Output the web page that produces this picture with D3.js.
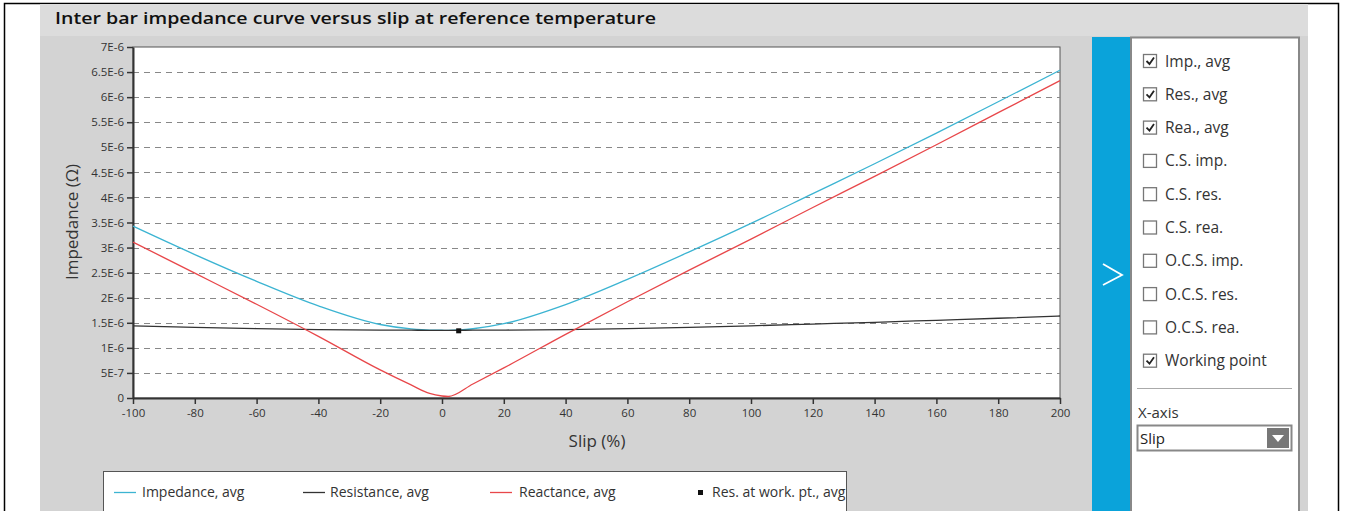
<!DOCTYPE html>
<html>
<head>
<meta charset="utf-8">
<script src="https://cdn.jsdelivr.net/npm/d3@7"></script>
<style>
  body { margin: 0; background: #fff; }
  svg { display: block; font-family: "Open Sans", sans-serif; }
</style>
</head>
<body>
<div id="my_dataviz"></div>
<script>
// data (impedance in ohm, slip in %)
var slip       = [-100, -80, -60, -40, -20, -10, -4, 0, 2, 10, 20, 40, 60, 80, 100, 120, 140, 160, 180, 200];
var impedance  = [3.427e-6, 2.861e-6, 2.327e-6, 1.837e-6, 1.466e-6, 1.377e-6, 1.353e-6, 1.351e-6, 1.350e-6, 1.381e-6, 1.482e-6, 1.864e-6, 2.367e-6, 2.914e-6, 3.482e-6, 4.076e-6, 4.671e-6, 5.283e-6, 5.908e-6, 6.538e-6];
var resistance = [1.44e-6, 1.41e-6, 1.385e-6, 1.365e-6, 1.355e-6, 1.352e-6, 1.35e-6, 1.35e-6, 1.35e-6, 1.352e-6, 1.355e-6, 1.365e-6, 1.385e-6, 1.41e-6, 1.44e-6, 1.475e-6, 1.51e-6, 1.55e-6, 1.59e-6, 1.635e-6];
var reactance  = [3.11e-6, 2.49e-6, 1.87e-6, 1.23e-6, 0.56e-6, 0.26e-6, 0.09e-6, 0.04e-6, 0.03e-6, 0.28e-6, 0.60e-6, 1.27e-6, 1.92e-6, 2.55e-6, 3.17e-6, 3.80e-6, 4.42e-6, 5.05e-6, 5.69e-6, 6.33e-6];
var workPoint  = {slip: 5.4, value: 1.34e-6};

var xTicks = [-100, -80, -60, -40, -20, 0, 20, 40, 60, 80, 100, 120, 140, 160, 180, 200];
var yTicks = [0, 5e-7, 1e-6, 1.5e-6, 2e-6, 2.5e-6, 3e-6, 3.5e-6, 4e-6, 4.5e-6, 5e-6, 5.5e-6, 6e-6, 6.5e-6, 7e-6];
var yTickLabels = ["0", "5E-7", "1E-6", "1.5E-6", "2E-6", "2.5E-6", "3E-6", "3.5E-6", "4E-6", "4.5E-6", "5E-6", "5.5E-6", "6E-6", "6.5E-6", "7E-6"];

var seriesNames = ["Impedance, avg", "Resistance, avg", "Reactance, avg"];
var seriesColors = ["#3cb4d2", "#333333", "#e8474a"];
var optionLabels = ["Imp., avg", "Res., avg", "Rea., avg", "C.S. imp.", "C.S. res.", "C.S. rea.", "O.C.S. imp.", "O.C.S. res.", "O.C.S. rea.", "Working point"];
var optionChecked = [true, true, true, false, false, false, false, false, false, true];

var W = 1347, H = 511;
var svg = d3.select("#my_dataviz").append("svg")
    .attr("width", W).attr("height", H);

// frame + grey panel
svg.append("rect").attr("x", 4.5).attr("y", 3.5).attr("width", 1334).attr("height", 520)
    .attr("fill", "#fff").attr("stroke", "#000").attr("stroke-width", 1.5);
svg.append("rect").attr("x", 40).attr("y", 4).attr("width", 1268).attr("height", 510).attr("fill", "#d3d3d3");
svg.append("rect").attr("x", 40).attr("y", 4).attr("width", 1268).attr("height", 32).attr("fill", "#dcdcdc");
svg.append("text").attr("x", 55).attr("y", 24)
    .attr("font-size", 17).attr("font-weight", 600).attr("fill", "#111")
    .attr("textLength", 601).attr("lengthAdjust", "spacingAndGlyphs")
    .text("Inter bar impedance curve versus slip at reference temperature");

// plot area
var margin = {top: 47, left: 133, right: 1060, bottom: 398};
var x = d3.scaleLinear().domain([-100, 200]).range([margin.left, margin.right]);
var y = d3.scaleLinear().domain([0, 7e-6]).range([margin.bottom, margin.top]);

svg.append("rect").attr("x", margin.left).attr("y", margin.top)
    .attr("width", margin.right - margin.left).attr("height", margin.bottom - margin.top)
    .attr("fill", "#fff").attr("stroke", "#555").attr("stroke-width", 1);

// grid
svg.append("g").selectAll("line")
    .data(yTicks.slice(1, -1))
    .enter().append("line")
    .attr("x1", margin.left).attr("x2", margin.right)
    .attr("y1", function(d) { return Math.round(y(d)) + 0.5; })
    .attr("y2", function(d) { return Math.round(y(d)) + 0.5; })
    .attr("stroke", "#888").attr("stroke-dasharray", "6,5");

// axes
var yAxis = svg.append("g")
    .attr("transform", "translate(" + margin.left + ",0)")
    .call(d3.axisLeft(y).tickValues(yTicks).tickSize(6).tickSizeOuter(0)
        .tickFormat(function(d, i) { return yTickLabels[i]; }));
var xAxis = svg.append("g")
    .attr("transform", "translate(0," + margin.bottom + ")")
    .call(d3.axisBottom(x).tickValues(xTicks).tickSize(6).tickSizeOuter(0)
        .tickFormat(function(d) { return String(d); }));
[xAxis, yAxis].forEach(function(a) {
    a.select(".domain").attr("stroke", "#333").attr("stroke-width", 2);
    a.selectAll(".tick line").attr("stroke", "#333").attr("stroke-width", 1.5);
    a.selectAll("text").attr("font-size", 11.5).attr("fill", "#333")
        .attr("font-family", "Open Sans, sans-serif");
});
xAxis.selectAll("text").attr("dy", "0.9em");

svg.append("text").attr("x", 597).attr("y", 447).attr("text-anchor", "middle")
    .attr("font-size", 17).attr("fill", "#333").text("Slip (%)");
svg.append("text").attr("transform", "translate(78,222) rotate(-90)").attr("text-anchor", "middle")
    .attr("font-size", 17).attr("fill", "#333").text("Impedance (\u03a9)");

// curves
var line = d3.line()
    .x(function(d) { return x(d[0]); })
    .y(function(d) { return y(d[1]); })
    .curve(d3.curveMonotoneX);
[impedance, resistance, reactance].forEach(function(vals, i) {
    svg.append("path")
        .datum(slip.map(function(s, j) { return [s, vals[j]]; }))
        .attr("fill", "none")
        .attr("stroke", seriesColors[i])
        .attr("stroke-width", 1.3)
        .attr("d", line);
});
svg.append("rect")
    .attr("x", x(workPoint.slip) - 2.5).attr("y", y(workPoint.value) - 2.5)
    .attr("width", 5).attr("height", 5).attr("fill", "#111");

// legend
var legend = svg.append("g");
legend.append("rect").attr("x", 103.5).attr("y", 471.5).attr("width", 743).attr("height", 60)
    .attr("fill", "#fff").attr("stroke", "#555");
var legX = [114, 303, 490];
var legTextX = [142, 330, 519];
seriesNames.forEach(function(name, i) {
    legend.append("line").attr("x1", legX[i]).attr("x2", legX[i] + 22)
        .attr("y1", 492.5).attr("y2", 492.5).attr("stroke", seriesColors[i]).attr("stroke-width", 1.3);
    legend.append("text").attr("x", legTextX[i]).attr("y", 497)
        .attr("font-size", 14).attr("fill", "#333").text(name);
});
legend.append("rect").attr("x", 698).attr("y", 490).attr("width", 5).attr("height", 5).attr("fill", "#111");
legend.append("text").attr("x", 712).attr("y", 497)
    .attr("font-size", 14).attr("fill", "#333").text("Res. at work. pt., avg");

// right side panel
svg.append("rect").attr("x", 1092).attr("y", 37).attr("width", 39).attr("height", 480).attr("fill", "#0aa3da");
svg.append("polyline").attr("points", "1103,264 1122,275 1103,285")
    .attr("fill", "none").attr("stroke", "#fff").attr("stroke-width", 1.8);
svg.append("rect").attr("x", 1131).attr("y", 37.5).attr("width", 168).attr("height", 480)
    .attr("fill", "#fff").attr("stroke", "#888").attr("stroke-width", 2);

var opts = svg.append("g");
optionLabels.forEach(function(lab, i) {
    var cy = 61 + i * 33.3;
    opts.append("rect").attr("x", 1143.5).attr("y", cy - 6.5).attr("width", 13).attr("height", 13)
        .attr("fill", "#fff").attr("stroke", "#777").attr("stroke-width", 1.3);
    if (optionChecked[i]) {
        opts.append("polyline")
            .attr("points", [[1146.5, cy], [1149.5, cy + 3], [1154, cy - 3.5]].join(" "))
            .attr("fill", "none").attr("stroke", "#222").attr("stroke-width", 1.8);
    }
    opts.append("text").attr("x", 1165).attr("y", cy + 5.5)
        .attr("font-size", 15.5).attr("fill", "#333").text(lab);
});
svg.append("line").attr("x1", 1137).attr("x2", 1292).attr("y1", 388.5).attr("y2", 388.5)
    .attr("stroke", "#aaa");
svg.append("text").attr("x", 1138).attr("y", 418).attr("font-size", 15).attr("fill", "#333").text("X-axis");
svg.append("rect").attr("x", 1137.5).attr("y", 425.5).attr("width", 154).attr("height", 25)
    .attr("fill", "#fff").attr("stroke", "#888").attr("stroke-width", 2);
svg.append("text").attr("x", 1140).attr("y", 444).attr("font-size", 15).attr("fill", "#222").text("Slip");
svg.append("rect").attr("x", 1267).attr("y", 428).attr("width", 22).attr("height", 20).attr("fill", "#777");
svg.append("polygon").attr("points", "1272,435 1284,435 1278,442").attr("fill", "#fff");
</script>
</body>
</html>
